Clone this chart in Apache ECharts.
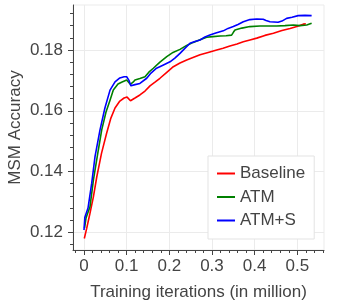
<!DOCTYPE html>
<html>
<head>
<meta charset="utf-8">
<script src="https://cdn.jsdelivr.net/npm/echarts@6/dist/echarts.min.js"></script>
<style>
html,body{margin:0;padding:0;background:#fff;}
#chart{width:350px;height:306px;}
</style>
</head>
<body>
<div id="chart"></div>
<script>
// ---- data ----
var seriesNames = ['Baseline', 'ATM', 'ATM+S'];
var seriesColors = ['#ff0000', '#008000', '#0000ff'];

var xBaseline = [0.0007,0.0063,0.014,0.022,0.030,0.041,0.053,0.063,0.0727,0.084,0.094,0.101,0.109,0.1195,0.131,0.143,0.1547,0.1664,0.178,0.192,0.2094,0.225,0.2407,0.2555,0.272,0.291,0.311,0.326,0.342,0.3587,0.3734,0.389,0.405,0.424,0.444,0.464,0.483,0.499,0.514,0.52];
var yBaseline = [0.1180,0.1213,0.1263,0.1317,0.1383,0.1460,0.1526,0.1576,0.1609,0.1632,0.1642,0.1645,0.1633,0.1642,0.1652,0.1665,0.1682,0.1694,0.1707,0.1724,0.1745,0.1757,0.1767,0.1775,0.1784,0.1792,0.1800,0.1806,0.1813,0.1820,0.1827,0.1833,0.1839,0.1848,0.1855,0.1864,0.1871,0.1877,0.1885,0.1886];

var xATM = [0.0012,0.0047,0.014,0.022,0.0336,0.0415,0.0516,0.061,0.0687,0.0797,0.088,0.100,0.104,0.1085,0.115,0.1195,0.131,0.143,0.152,0.1625,0.178,0.194,0.2086,0.225,0.2407,0.256,0.272,0.2876,0.302,0.319,0.333,0.346,0.3505,0.354,0.370,0.389,0.4126,0.431,0.4517,0.471,0.4906,0.506,0.522,0.5336];
var yATM = [0.1214,0.1247,0.1284,0.1372,0.1471,0.1537,0.1596,0.1635,0.1668,0.1688,0.1694,0.1701,0.1698,0.1687,0.1694,0.1701,0.1706,0.1712,0.1727,0.1740,0.1760,0.1778,0.1792,0.1802,0.1815,0.1825,0.1834,0.1842,0.1844,0.1846,0.1847,0.1849,0.1859,0.1866,0.1872,0.1877,0.1879,0.1879,0.1879,0.1880,0.1882,0.1880,0.1882,0.1888];

var xATMS = [0,0.002,0.0094,0.018,0.0258,0.0375,0.049,0.061,0.0727,0.084,0.094,0.1,0.105,0.110,0.1195,0.131,0.147,0.157,0.170,0.185,0.2016,0.213,0.225,0.237,0.2485,0.260,0.272,0.2836,0.295,0.309,0.3265,0.3376,0.350,0.361,0.3734,0.389,0.405,0.420,0.4267,0.436,0.455,0.464,0.475,0.4876,0.502,0.518,0.5336];
var yATMS = [0.1208,0.1250,0.1280,0.1361,0.1449,0.1537,0.1609,0.1668,0.1695,0.1708,0.1712,0.1712,0.1701,0.1682,0.1686,0.1690,0.1707,0.1724,0.1740,0.1750,0.1761,0.1773,0.1789,0.1806,0.1822,0.1828,0.1833,0.1843,0.1849,0.1856,0.1863,0.1871,0.1877,0.1884,0.1893,0.1900,0.1902,0.1901,0.1897,0.1893,0.1891,0.1895,0.1904,0.1908,0.1913,0.1914,0.1913];

var xMajorTicks = [0, 0.1, 0.2, 0.3, 0.4, 0.5];
var xMinorTicks = [-0.02,0.02,0.04,0.06,0.08,0.12,0.14,0.16,0.18,0.22,0.24,0.26,0.28,0.32,0.34,0.36,0.38,0.42,0.44,0.46,0.48,0.52,0.54,0.56];
var yMajorTicks = [0.12, 0.14, 0.16, 0.18];
var yMinorTicks = [0.116,0.124,0.128,0.132,0.136,0.144,0.148,0.152,0.156,0.164,0.168,0.172,0.176,0.184,0.188,0.192];

var xMin = -0.0258, xMax = 0.5626;
var yMin = 0.1142, yMax = 0.1948;

// ---- chart ----
function pairs(xs, ys) { return xs.map(function (x, i) { return [x, ys[i]]; }); }
var allX = [xBaseline, xATM, xATMS];
var allY = [yBaseline, yATM, yATMS];

var textColor = '#444';
var axisColor = '#444';
var gridColor = '#ebebeb';
var fontFamily = 'Liberation Sans, Arial, sans-serif';

function xLabel(v) { return v === 0 ? '0' : String(Math.round(v * 10) / 10); }

var chart = echarts.init(document.getElementById('chart'), null, { renderer: 'canvas' });
chart.setOption({
  animation: false,
  backgroundColor: '#fff',
  textStyle: { fontFamily: fontFamily },
  grid: { left: 73, right: 26, top: 5, bottom: 56, show: true, borderColor: gridColor, borderWidth: 1, containLabel: false, outerBoundsMode: 'none' },
  legend: {
    orient: 'vertical',
    left: 208, top: 156,
    padding: [9, 9, 10, 9],
    itemGap: 6.5,
    itemWidth: 18, itemHeight: 2,
    icon: 'rect',
    backgroundColor: '#fff',
    borderColor: '#e3e3e3', borderWidth: 1, borderRadius: 0,
    textStyle: { fontSize: 17, color: textColor, fontFamily: fontFamily, padding: [0, 0, 0, 0] },
    data: seriesNames
  },
  xAxis: [{
    type: 'value', min: xMin, max: xMax,
    name: 'Training iterations (in million)', nameLocation: 'middle', nameGap: 34, nameMoveOverlap: false,
    nameTextStyle: { fontSize: 17, color: textColor, fontFamily: fontFamily },
    axisLine: { show: true, onZero: false, lineStyle: { color: axisColor, width: 1 } },
    axisTick: { show: true, length: 5, customValues: xMajorTicks, lineStyle: { color: axisColor } },
    axisLabel: { show: true, customValues: xMajorTicks, formatter: xLabel, fontSize: 17, color: textColor, margin: 8, fontFamily: fontFamily },
    splitLine: { show: true, lineStyle: { color: gridColor, width: 1 } }
  }, {
    type: 'value', min: xMin, max: xMax, position: 'bottom',
    axisLine: { show: false, onZero: false },
    axisTick: { show: true, length: 3, customValues: xMinorTicks, lineStyle: { color: axisColor } },
    axisLabel: { show: false },
    splitLine: { show: false }
  }],
  yAxis: [{
    type: 'value', min: yMin, max: yMax,
    name: 'MSM Accuracy', nameLocation: 'middle', nameGap: 49, nameMoveOverlap: false,
    nameTextStyle: { fontSize: 17, color: textColor, fontFamily: fontFamily },
    axisLine: { show: true, onZero: false, lineStyle: { color: axisColor, width: 1 } },
    axisTick: { show: true, length: 5, customValues: yMajorTicks, lineStyle: { color: axisColor } },
    axisLabel: { show: true, customValues: yMajorTicks, formatter: function (v) { return v.toFixed(2); }, fontSize: 17, color: textColor, margin: 10, fontFamily: fontFamily },
    splitLine: { show: true, lineStyle: { color: gridColor, width: 1 } }
  }, {
    type: 'value', min: yMin, max: yMax, position: 'left',
    axisLine: { show: false, onZero: false },
    axisTick: { show: true, length: 3, customValues: yMinorTicks, lineStyle: { color: axisColor } },
    axisLabel: { show: false },
    splitLine: { show: false }
  }],
  series: seriesNames.map(function (name, i) {
    return {
      name: name, type: 'line', xAxisIndex: 0, yAxisIndex: 0,
      data: pairs(allX[i], allY[i]),
      showSymbol: false, symbol: 'none',
      lineStyle: { color: seriesColors[i], width: 1.6 },
      itemStyle: { color: seriesColors[i] },
      z: 3 + i
    };
  })
});
</script>
</body>
</html>
